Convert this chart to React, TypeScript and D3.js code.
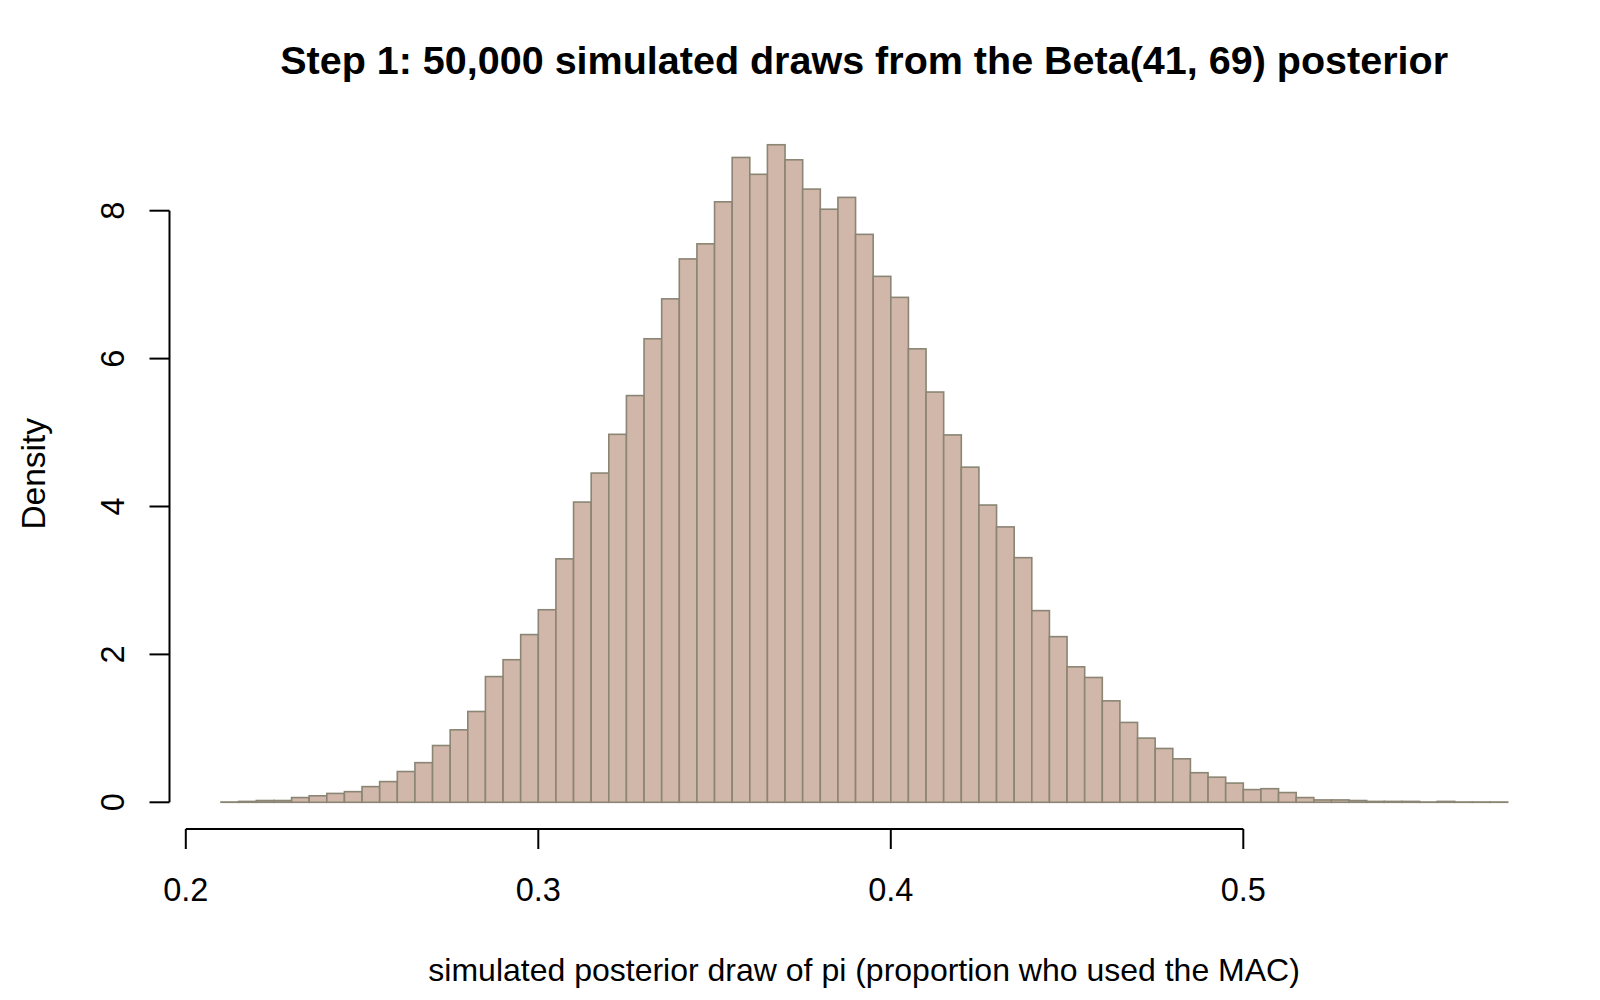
import React from "react";
import * as d3 from "d3";

// Histogram bins (R hist, breaks every 0.005 from 0.21 to 0.575)
const binStart = 0.21;
const binWidth = 0.005;
const densities = [
  0.004, 0.012, 0.024, 0.024, 0.064, 0.088, 0.12, 0.144, 0.212, 0.28,
  0.416, 0.536, 0.768, 0.98, 1.228, 1.7, 1.928, 2.268,
  2.604, 3.292, 4.06, 4.452, 4.976, 5.5, 6.268, 6.808, 7.348, 7.552,
  8.12, 8.72, 8.492, 8.892, 8.688, 8.292, 8.02, 8.18, 7.68, 7.112,
  6.828, 6.132, 5.548, 4.968, 4.532, 4.02, 3.724, 3.308, 2.592, 2.24,
  1.832, 1.688, 1.372, 1.08, 0.868, 0.728, 0.588, 0.4, 0.34, 0.26,
  0.172, 0.184, 0.132, 0.064, 0.032, 0.032, 0.024, 0.012, 0.012, 0.012,
  0.004, 0.012, 0.004, 0.004, 0.004,
];
const xTicks = [0.2, 0.3, 0.4, 0.5];
const xTickLabels = ["0.2", "0.3", "0.4", "0.5"];
const yTicks = [0, 2, 4, 6, 8];
const yTickLabels = ["0", "2", "4", "6", "8"];

const title = "Step 1: 50,000 simulated draws from the Beta(41, 69) posterior";
const xLabel = "simulated posterior draw of pi (proportion who used the MAC)";
const yLabel = "Density";

const W = 1600;
const H = 1000;
const FILL = "#D1B7A9";
const STROKE = "#8A8574";
const FONT = "'Liberation Sans', Arial, Helvetica, sans-serif";

export default function App() {
  const bins = densities.map((d, i) => ({
    x0: binStart + i * binWidth,
    x1: binStart + (i + 1) * binWidth,
    d,
  }));
  const x = d3.scaleLinear().domain([0.2, 0.5]).range([185.8, 1243.3]);
  const y = d3.scaleLinear().domain([0, 8]).range([802.3, 210.7]);
  const plotLeft = 169.5;
  const plotBottom = 829;
  const plotTop = 118.5;
  const plotRight = 1558.7;
  const cx = (plotLeft + plotRight) / 2;
  const cy = (plotTop + plotBottom) / 2;

  return (
    <svg
      width={W}
      height={H}
      style={{ position: "absolute", left: 0, top: 0, background: "#fff" }}
      fontFamily={FONT}
    >
      <rect x={0} y={0} width={W} height={H} fill="#fff" />
      <g>
        {bins.map((b, i) => (
          <rect
            key={i}
            x={x(b.x0)}
            y={y(b.d)}
            width={x(b.x1) - x(b.x0)}
            height={Math.max(0, y(0) - y(b.d))}
            fill={FILL}
            stroke={STROKE}
            strokeWidth={1.6}
          />
        ))}
      </g>
      {/* x axis */}
      <g stroke="#000" strokeWidth={2} fill="none">
        <line x1={x(xTicks[0])} x2={x(xTicks[xTicks.length - 1])} y1={plotBottom} y2={plotBottom} />
        {xTicks.map((t) => (
          <line key={t} x1={x(t)} x2={x(t)} y1={plotBottom} y2={plotBottom + 20} />
        ))}
      </g>
      {xTicks.map((t, i) => (
        <text key={t} x={x(t)} y={900.5} fontSize={32.5} textAnchor="middle" fill="#000">
          {xTickLabels[i]}
        </text>
      ))}
      {/* y axis */}
      <g stroke="#000" strokeWidth={2} fill="none">
        <line x1={plotLeft} x2={plotLeft} y1={y(yTicks[0])} y2={y(yTicks[yTicks.length - 1])} />
        {yTicks.map((t) => (
          <line key={t} x1={plotLeft} x2={plotLeft - 20} y1={y(t)} y2={y(t)} />
        ))}
      </g>
      {yTicks.map((t, i) => (
        <text
          key={t}
          transform={`translate(123.8, ${y(t)}) rotate(-90)`}
          fontSize={32.5}
          textAnchor="middle"
          fill="#000"
        >
          {yTickLabels[i]}
        </text>
      ))}
      <text
        transform={`translate(45, ${cy}) rotate(-90)`}
        fontSize={33.5}
        textAnchor="middle"
        fill="#000"
      >
        {yLabel}
      </text>
      <text x={cx} y={980.5} fontSize={32} textAnchor="middle" fill="#000">
        {xLabel}
      </text>
      <text x={cx} y={74} fontSize={39.5} fontWeight="bold" textAnchor="middle" fill="#000">
        {title}
      </text>
    </svg>
  );
}
